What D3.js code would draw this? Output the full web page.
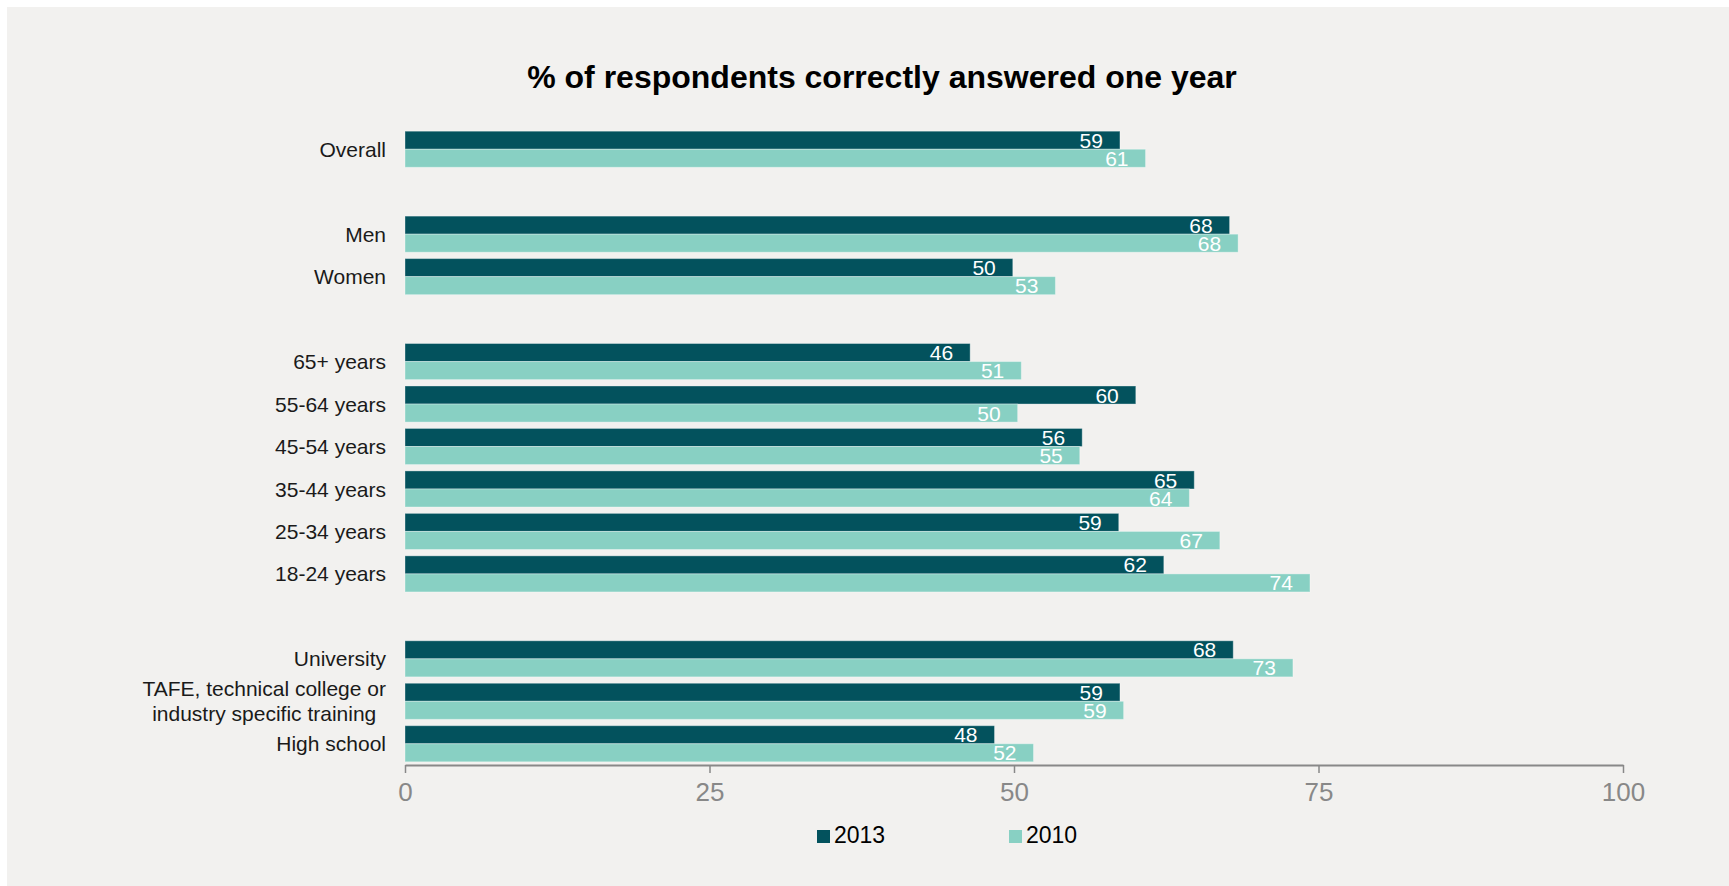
<!DOCTYPE html>
<html>
<head>
<meta charset="utf-8">
<script src="https://cdn.jsdelivr.net/npm/d3@7"></script>
<style>
  html, body { margin: 0; padding: 0; background: #ffffff; }
  svg { display: block; font-family: "Liberation Sans", Arial, sans-serif; }
</style>
</head>
<body>
<svg id="chart" width="1729" height="886"></svg>
<script>
// ---- data ----
const categories = ["Overall", "", "Men", "Women", " ", "65+ years", "55-64 years", "45-54 years",
  "35-44 years", "25-34 years", "18-24 years", "  ", "University",
  "TAFE, technical college or\nindustry specific training", "High school"];
const values2013 = [58.7, null, 67.7, 49.9, null, 46.4, 60.0, 55.6, 64.8, 58.6, 62.3, null, 68.0, 58.7, 48.4];
const values2010 = [60.8, null, 68.4, 53.4, null, 50.6, 50.3, 55.4, 64.4, 66.9, 74.3, null, 72.9, 59.0, 51.6];
const seriesNames = ["2013", "2010"];
const tickValues = [0, 25, 50, 75, 100];
const title = "% of respondents correctly answered one year";

const colors = { "2013": "#03525D", "2010": "#88D0C3" };

const svg = d3.select("#chart");
// panel background
svg.append("rect").attr("x", 7).attr("y", 7).attr("width", 1722).attr("height", 879).attr("fill", "#F2F1EF");

const x = d3.scaleLinear().domain([0, 100]).range([405, 1623]);
const y = d3.scaleBand().domain(categories).range([128, 765]).paddingInner(0.15).paddingOuter(0.075);
const ySub = d3.scaleBand().domain(seriesNames).range([0, y.bandwidth()]);

// title
svg.append("text").attr("x", 882).attr("y", 88).attr("text-anchor", "middle")
  .attr("font-size", 32).attr("font-weight", "bold").attr("fill", "#000").text(title);

const rows = categories.map((c, i) => ({ cat: c, vals: [
  { s: "2013", v: values2013[i] }, { s: "2010", v: values2010[i] } ] }));

const g = svg.append("g");
const rowG = g.selectAll("g.row").data(rows.filter(r => r.vals[0].v != null)).join("g")
  .attr("class", "row").attr("transform", d => `translate(0,${y(d.cat)})`);

rowG.selectAll("rect").data(d => d.vals).join("rect")
  .attr("x", x(0)).attr("y", d => ySub(d.s))
  .attr("width", d => x(d.v) - x(0)).attr("height", ySub.bandwidth())
  .attr("fill", d => colors[d.s])
  .attr("stroke", "rgba(255,255,255,0.35)").attr("stroke-width", 1);

rowG.selectAll("text.val").data(d => d.vals).join("text").attr("class", "val")
  .attr("x", d => x(d.v) - 17).attr("y", d => ySub(d.s) + ySub.bandwidth() / 2)
  .attr("dy", "0.36em").attr("text-anchor", "end").attr("font-size", 21).attr("fill", "#ffffff")
  .text(d => d3.format(".0f")(d.v));

// category labels
rows.filter(r => r.vals[0].v != null).forEach(r => {
  const lines = r.cat.split("\n");
  const cy = y(r.cat) + y.bandwidth() / 2;
  const t = svg.append("text").attr("font-size", 21).attr("fill", "#1a1a1a");
  if (lines.length === 1) {
    t.attr("x", 386).attr("y", cy).attr("dy", "0.36em").attr("text-anchor", "end").text(lines[0]);
  } else {
    const spans = lines.map((l, i) => t.append("tspan").attr("x", 0)
      .attr("y", cy + (i - (lines.length - 1) / 2) * 25).attr("dy", "0.36em").text(l));
    const maxW = d3.max(spans, s => s.node().getComputedTextLength());
    const cx = 386 - maxW / 2;
    spans.forEach(s => s.attr("x", cx));
    t.attr("text-anchor", "middle");
  }
});

// x axis
const axis = d3.axisBottom(x).tickValues(tickValues).tickSize(8).tickPadding(10).tickSizeOuter(0);
const ax = svg.append("g").attr("transform", "translate(0,765)").call(axis);
ax.select(".domain").attr("stroke", "#888").attr("stroke-width", 2);
ax.selectAll(".tick line").attr("stroke", "#888").attr("stroke-width", 1.5);
ax.selectAll(".tick text").attr("font-size", 26).attr("fill", "#888")
  .attr("font-family", "Liberation Sans, Arial, sans-serif");

// legend
const legendX = [817, 1009];
seriesNames.forEach((s, i) => {
  svg.append("rect").attr("x", legendX[i]).attr("y", 830).attr("width", 13).attr("height", 13).attr("fill", colors[s]);
  svg.append("text").attr("x", legendX[i] + 17).attr("y", 843).attr("font-size", 23).attr("fill", "#000").text(s);
});
</script>
</body>
</html>
